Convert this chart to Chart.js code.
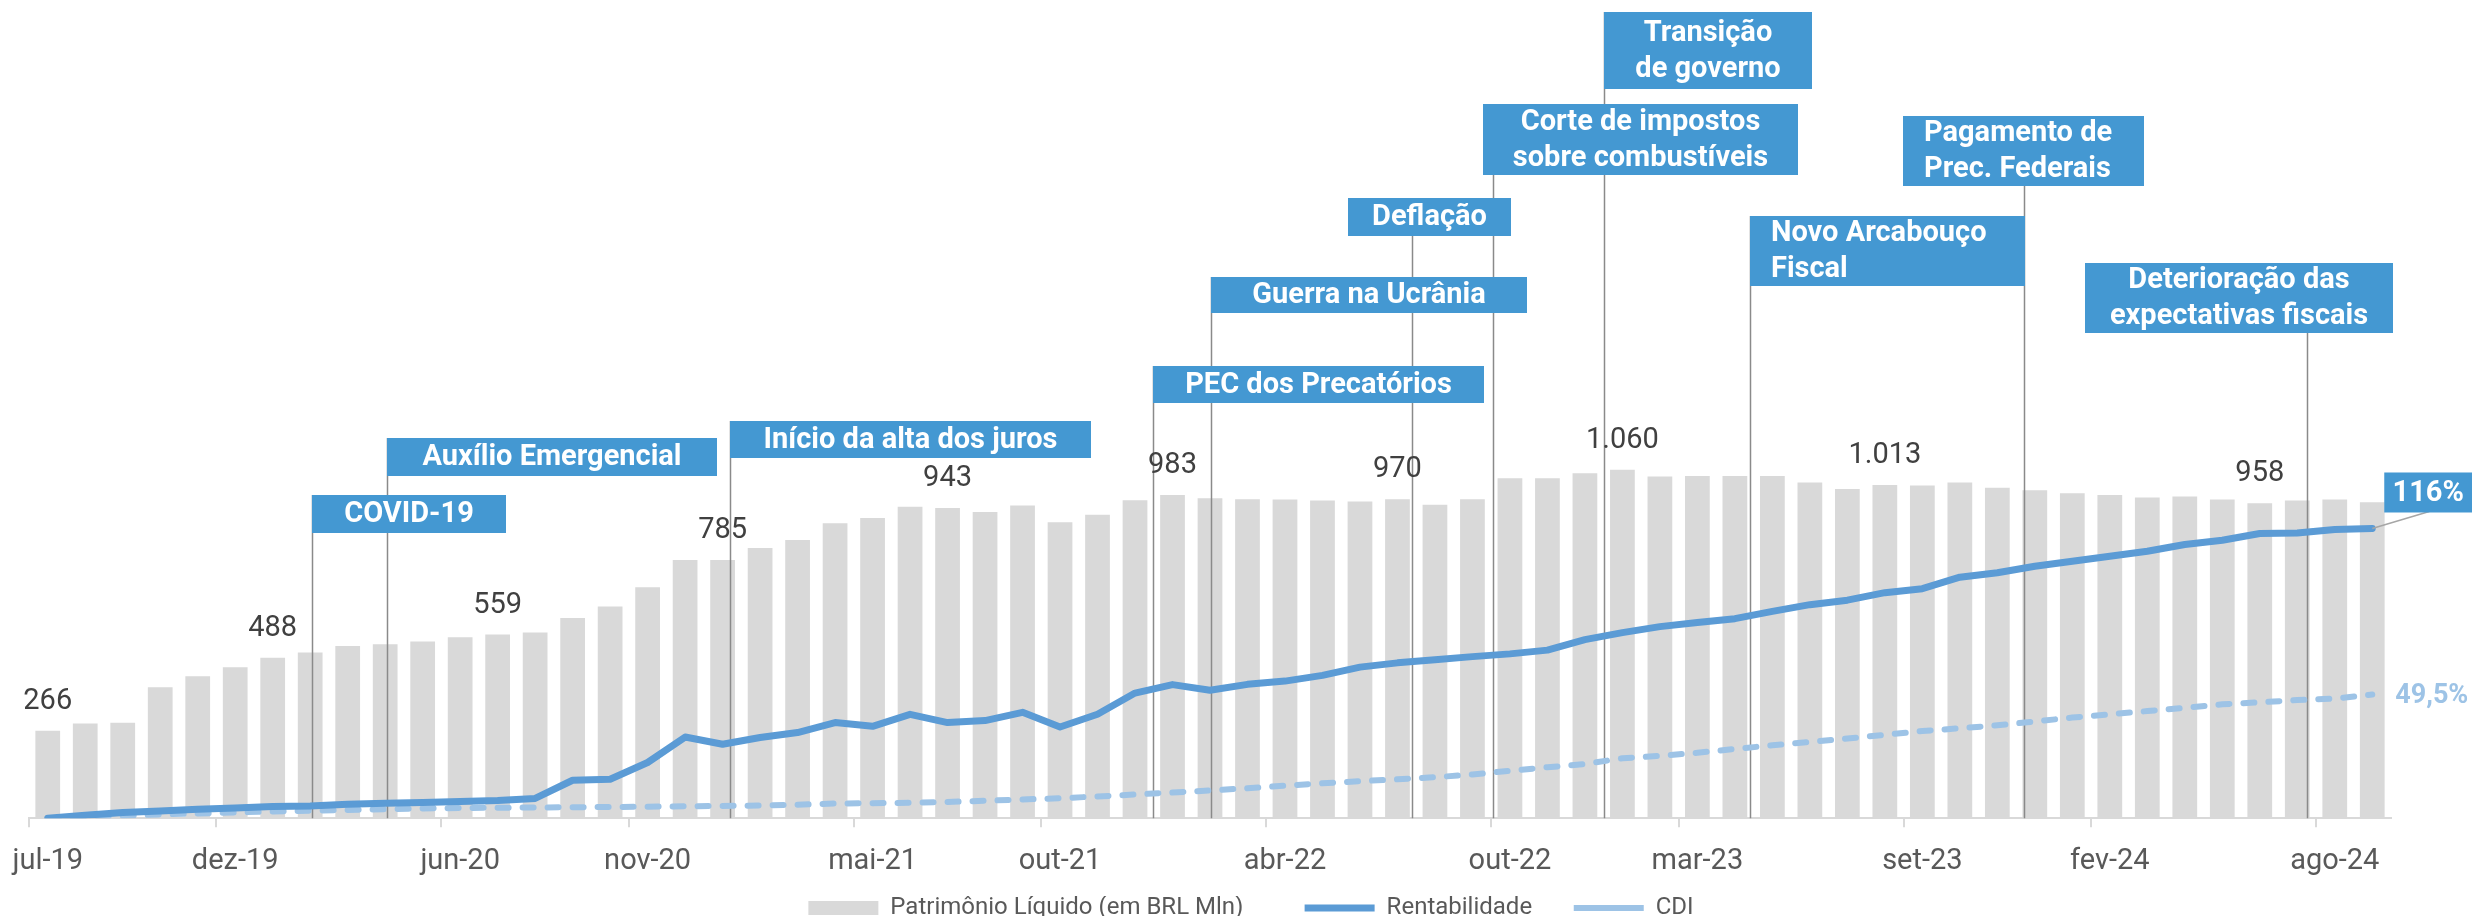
<!DOCTYPE html>
<html>
<head>
<meta charset="utf-8">
<script src="https://cdn.jsdelivr.net/npm/chart.js@4.4.1/dist/chart.umd.min.js"></script>
<style>
  html, body { margin: 0; padding: 0; background: #fff; }
  #wrap { width: 2472px; height: 916px; }
</style>
</head>
<body>
<div id="wrap"><canvas id="fundChart"></canvas></div>
<script>
// categories (monthly)
const months = ['jul-19','ago-19','set-19','out-19','nov-19','dez-19',
  'jan-20','fev-20','mar-20','abr-20','mai-20','jun-20','jul-20','ago-20','set-20','out-20','nov-20','dez-20',
  'jan-21','fev-21','mar-21','abr-21','mai-21','jun-21','jul-21','ago-21','set-21','out-21','nov-21','dez-21',
  'jan-22','fev-22','mar-22','abr-22','mai-22','jun-22','jul-22','ago-22','set-22','out-22','nov-22','dez-22',
  'jan-23','fev-23','mar-23','abr-23','mai-23','jun-23','jul-23','ago-23','set-23','out-23','nov-23','dez-23',
  'jan-24','fev-24','mar-24','abr-24','mai-24','jun-24','jul-24','ago-24','set-24'];

// Patrimônio Líquido (BRL Mln)
const pl = [266, 288, 290, 398, 432, 459,
  488, 504, 524, 529, 537, 550, 559, 565, 609, 644, 702, 785,
  785, 822, 846, 897, 913, 947, 943, 931, 951, 900, 923, 967,
  983, 973, 970, 969, 966, 963, 970, 953, 970, 1034, 1034, 1049,
  1060, 1039, 1041, 1041, 1041, 1021, 1001, 1013, 1012, 1021, 1005, 997,
  988, 983, 975, 978, 969, 958, 966, 969, 961];

// Rentabilidade acumulada (%)
const rent = [0, 1.2, 2.3, 2.9, 3.6, 4.1,
  4.7, 4.9, 5.6, 6.0, 6.3, 6.7, 7.1, 7.9, 15.2, 15.6, 22.3, 32.5,
  29.6, 32.3, 34.3, 38.3, 36.8, 41.6, 38.3, 39.1, 42.4, 36.5, 41.6, 50.1,
  53.5, 51.2, 53.6, 54.9, 57.2, 60.5, 62.2, 63.4, 64.7, 65.8, 67.3, 71.5,
  74.3, 76.7, 78.4, 79.9, 82.8, 85.5, 87.3, 90.3, 91.9, 96.5, 98.3, 100.9,
  102.9, 104.9, 106.9, 109.6, 111.3, 114.0, 114.2, 115.6, 116.0];

// CDI acumulado (%)
const cdi = [0, 0.5, 1.0, 1.5, 1.9, 2.3,
  2.7, 3.0, 3.3, 3.6, 3.9, 4.1, 4.2, 4.3, 4.4, 4.5, 4.6, 4.8,
  4.9, 5.1, 5.4, 5.9, 6.0, 6.2, 6.5, 7.0, 7.5, 8.0, 8.7, 9.5,
  10.3, 11.1, 12.0, 13.0, 14.0, 14.8, 15.6, 16.4, 17.5, 19.0, 20.4, 21.7,
  24.0, 25.0, 26.2, 27.7, 29.2, 30.5, 31.9, 33.4, 34.9, 36.0, 37.2, 38.7,
  40.3, 41.6, 42.9, 44.2, 45.6, 46.4, 47.3, 47.9, 49.5];

// which month labels are shown on the axis, which bars get a value label
const shownTicks = [0, 5, 11, 16, 22, 27, 33, 39, 44, 50, 55, 61];
const labelledBars = [0, 6, 12, 18, 24, 30, 36, 42, 49, 59];

// events: text and position on the month axis (fractional month index)
const eventText = [
  ['COVID-19'],
  ['Auxílio Emergencial'],
  ['Início da alta dos juros'],
  ['PEC dos Precatórios'],
  ['Guerra na Ucrânia'],
  ['Deflação'],
  ['Corte de impostos', 'sobre combustíveis'],
  ['Transição', 'de governo'],
  ['Novo Arcabouço', 'Fiscal'],
  ['Pagamento de', 'Prec. Federais'],
  ['Deterioração das', 'expectativas fiscais']
];
const eventAt = [7.04, 9.04, 18.21, 29.47, 31.04, 36.4, 38.56, 41.52, 45.39, 52.72, 60.27];

// box layout: [offset from line, top, width, height, align]
const eventBox = [
  [0, 495, 194, 38, 'center'],
  [0, 438, 330, 38, 'center'],
  [0, 421, 361, 37, 'center'],
  [0, 366, 331, 37, 'center'],
  [0, 277, 316, 36, 'center'],
  [-64, 198, 163, 38, 'center'],
  [-10, 104, 315, 71, 'center'],
  [0, 12, 208, 77, 'center'],
  [0, 216, 275, 70, 'left'],
  [-121, 116, 241, 70, 'left'],
  [-222, 263, 308, 70, 'center']
];

const BLUE = 'rgb(68,152,210)';

function fmt(v) {
  return String(v).replace(/\B(?=(\d{3})+(?!\d))/g, '.');
}

function xAt(scale, p) {
  const i = Math.floor(p);
  const step = scale.getPixelForValue(1) - scale.getPixelForValue(0);
  return scale.getPixelForValue(i) + (p - i) * step;
}

const annotations = {
  id: 'annotations',
  afterDatasetDraw(chart, args) {
    if (args.index !== 0) return;
    const ctx = chart.ctx;
    const base = chart.chartArea.bottom;
    ctx.save();
    ctx.strokeStyle = '#8a8a8a';
    ctx.lineWidth = 1.5;
    eventAt.forEach((p, i) => {
      const px = Math.round(xAt(chart.scales.x, p)) + 0.5;
      ctx.beginPath();
      ctx.moveTo(px, eventBox[i][1]);
      ctx.lineTo(px, base);
      ctx.stroke();
    });
    ctx.restore();
  },
  afterDatasetsDraw(chart) {
    const ctx = chart.ctx;
    ctx.save();

    // bar value labels
    const bars = chart.getDatasetMeta(0).data;
    ctx.fillStyle = '#404040';
    ctx.font = '29px Roboto';
    ctx.textAlign = 'center';
    ctx.textBaseline = 'middle';
    labelledBars.forEach(i => {
      ctx.fillText(fmt(pl[i]), bars[i].x, bars[i].y - 29);
    });

    // event boxes
    eventAt.forEach((p, i) => {
      const [dx, top, w, h, align] = eventBox[i];
      const left = Math.round(xAt(chart.scales.x, p)) + dx;
      ctx.fillStyle = BLUE;
      ctx.fillRect(left, top, w, h);
      ctx.fillStyle = '#fff';
      ctx.font = 'bold 29px Roboto';
      ctx.textAlign = align;
      const lines = eventText[i];
      const tx = align === 'left' ? left + 21 : left + w / 2;
      const cy = top + h / 2;
      lines.forEach((t, k) => {
        ctx.fillText(t, tx, cy + (k - (lines.length - 1) / 2) * 36 + 1);
      });
    });

    // end labels
    const rPts = chart.getDatasetMeta(1).data;
    const last = rPts[rPts.length - 1];
    ctx.strokeStyle = '#a6a6a6';
    ctx.lineWidth = 1.5;
    ctx.beginPath();
    ctx.moveTo(last.x, last.y);
    ctx.lineTo(last.x + 57, last.y - 17);
    ctx.stroke();
    ctx.fillStyle = BLUE;
    ctx.fillRect(last.x + 12, last.y - 56, 88, 40);
    ctx.fillStyle = '#fff';
    ctx.font = 'bold 29px Roboto';
    ctx.textAlign = 'center';
    ctx.fillText(fmt(rent[rent.length - 1]) + '%', last.x + 56, last.y - 35);

    const cPts = chart.getDatasetMeta(2).data;
    const cl = cPts[cPts.length - 1];
    ctx.fillStyle = '#9dc3e6';
    ctx.font = 'bold 27px Roboto';
    ctx.textAlign = 'left';
    ctx.fillText(String(cdi[cdi.length - 1]).replace('.', ',') + '%', cl.x + 23, cl.y + 2);

    ctx.restore();
  }
};

const ctx = document.getElementById('fundChart').getContext('2d');
new Chart(ctx, {
  data: {
    labels: months,
    datasets: [{
      type: 'bar',
      label: 'Patrimônio Líquido (em BRL Mln)',
      data: pl,
      backgroundColor: '#d9d9d9',
      borderWidth: 0,
      barPercentage: 0.66,
      categoryPercentage: 1,
      yAxisID: 'y',
      order: 3
    }, {
      type: 'line',
      label: 'Rentabilidade',
      data: rent,
      borderColor: '#5b9bd5',
      backgroundColor: '#5b9bd5',
      borderWidth: 7,
      borderCapStyle: 'round',
      borderJoinStyle: 'round',
      pointRadius: 0,
      tension: 0,
      yAxisID: 'y1',
      order: 1
    }, {
      type: 'line',
      label: 'CDI',
      data: cdi,
      borderColor: '#9dc3e6',
      backgroundColor: '#9dc3e6',
      borderWidth: 6,
      borderDash: [11, 14],
      borderCapStyle: 'round',
      pointRadius: 0,
      tension: 0,
      yAxisID: 'y1',
      order: 2
    }]
  },
  options: {
    responsive: true,
    maintainAspectRatio: false,
    animation: false,
    layout: { padding: { top: 29, left: 29, right: 81, bottom: -14 } },
    scales: {
      x: {
        offset: true,
        afterFit(s) { s.paddingLeft = 0; s.paddingRight = 0; },
        grid: {
          offset: true,
          drawOnChartArea: false,
          tickLength: 9,
          lineWidth: 2,
          color: c => shownTicks.includes(c.index) ? '#d9d9d9' : 'rgba(0,0,0,0)'
        },
        border: { color: '#d9d9d9', width: 2 },
        ticks: {
          autoSkip: false,
          maxRotation: 0,
          padding: 17,
          color: '#595959',
          font: { family: 'Roboto', size: 29 },
          callback: (v, i) => shownTicks.includes(i) ? months[i] : ''
        }
      },
      y: { display: false, min: 0, max: 2400 },
      y1: { display: false, min: 0, max: 316 }
    },
    plugins: {
      legend: {
        position: 'bottom',
        labels: {
          usePointStyle: true,
          pointStyleWidth: 70,
          boxHeight: 14,
          padding: 0,
          color: '#595959',
          font: { family: 'Roboto', size: 24 },
          generateLabels(chart) {
            const items = Chart.defaults.plugins.legend.labels.generateLabels(chart);
            items.forEach(it => {
              it.pointStyle = it.datasetIndex === 0 ? 'rect' : 'line';
              if (it.datasetIndex === 0) it.text += '\u2003\u2003\u2002';
              if (it.datasetIndex === 1) it.text += '\u2003\u2002\u2009';
            });
            items.sort((a, b) => a.datasetIndex - b.datasetIndex);
            // invisible spacer so the legend sits where the original does
            items.unshift({
              text: '', fillStyle: 'rgba(0,0,0,0)', strokeStyle: 'rgba(0,0,0,0)',
              lineWidth: 0, pointStyle: 'rect', hidden: false, datasetIndex: -1
            });
            return items;
          }
        },
        onClick: () => {}
      },
      tooltip: { enabled: false }
    }
  },
  plugins: [annotations]
});
</script>
</body>
</html>
